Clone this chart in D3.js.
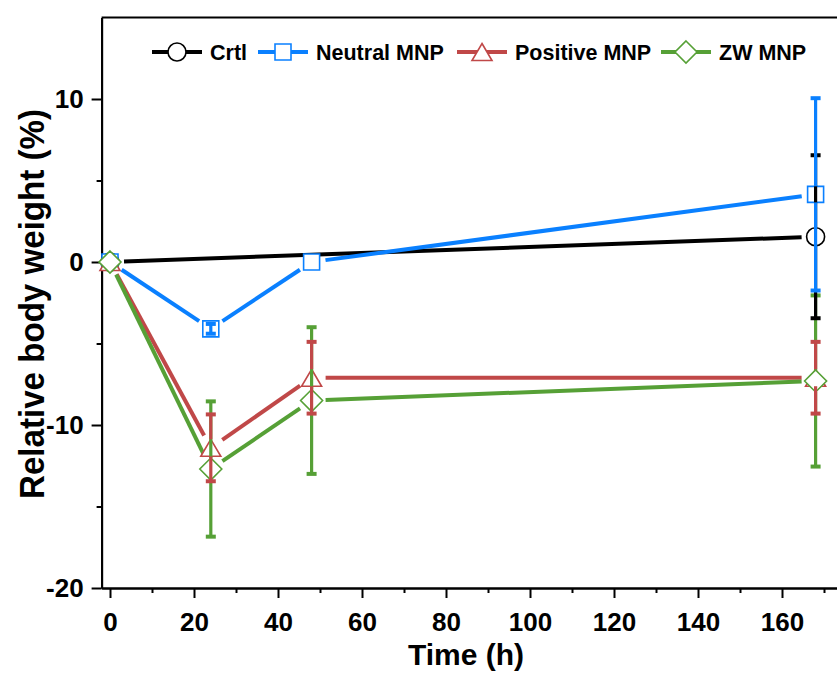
<!DOCTYPE html>
<html>
<head>
<meta charset="utf-8">
<script src="https://cdn.jsdelivr.net/npm/d3@7"></script>
<style>
  body { margin: 0; background: #fff; }
  svg { display: block; font-family: "Liberation Sans", Arial, sans-serif; }
</style>
</head>
<body>
<svg id="chart" width="837" height="674"></svg>
<script>
// ---------- data ----------
const seriesNames = ["Crtl", "Neutral MNP", "Positive MNP", "ZW MNP"];
const crtlTime = [0, 168];
const crtlMean = [0, 1.55];
const crtlErr = [0, 5.0];
const mnpTime = [0, 24, 48, 168];
const neutralMean = [0, -4.1, 0.0, 4.15];
const neutralErr = [0, 0.3, 0, 5.9];
const positiveMean = [0, -11.4, -7.1, -7.1];
const positiveErr = [0, 2.05, 2.2, 2.2];
const zwMean = [0, -12.7, -8.5, -7.3];
const zwErr = [0, 4.15, 4.5, 5.25];
const xTicks = [0, 20, 40, 60, 80, 100, 120, 140, 160];
const xMinorTicks = [10, 30, 50, 70, 90, 110, 130, 150, 170];
const yTicks = [-20, -10, 0, 10];
const yMinorTicks = [-15, -5, 5];
const xTitle = "Time (h)";
const yTitle = "Relative body weight (%)";

// ---------- styles ----------
const colors = ["#000000", "#0a80ff", "#c04848", "#56a036"];
const shapes = ["circle", "square", "triangle", "diamond"];

const series = seriesNames.map((name, i) => {
  const t = i === 0 ? crtlTime : mnpTime;
  const m = [crtlMean, neutralMean, positiveMean, zwMean][i];
  const e = [crtlErr, neutralErr, positiveErr, zwErr][i];
  return { name, color: colors[i], shape: shapes[i],
    points: t.map((tt, k) => ({ t: tt, v: m[k], e: e[k] })) };
});

const svg = d3.select("#chart");
const x = d3.scaleLinear().domain([-2, 176]).range([101.6, 101.6 + 178 * 4.2]);
const y = d3.scaleLinear().domain([-20, 15]).range([588, 17.5]);

function markerPath(shape) {
  if (shape === "circle") return d3.symbol().type(d3.symbolCircle).size(Math.PI * 9 * 9)();
  if (shape === "square") return "M-8,-8H8V8H-8Z";
  if (shape === "triangle") return "M0,-8.5L10,8.5H-10Z";
  if (shape === "diamond") return "M0,-11L11,0L0,11L-11,0Z";
}
const halfH = { circle: 9, square: 8, triangle: 8.5, diamond: 11 };

// ---------- axes ----------
const fontTick = "bold 26px 'Liberation Sans', Arial, sans-serif";

svg.append("g").attr("transform", "translate(0,588)")
  .call(d3.axisBottom(x).tickValues(xTicks).tickFormat(d3.format("d"))
    .tickSize(10).tickSizeOuter(0).tickPadding(15));
svg.append("g").attr("transform", "translate(0,588)")
  .call(d3.axisBottom(x).tickValues(xMinorTicks).tickFormat("")
    .tickSize(5).tickSizeOuter(0));
const gy = svg.append("g").attr("transform", "translate(101.6,0)")
  .call(d3.axisLeft(y).tickValues(yTicks).tickFormat(d3.format("d"))
    .tickSize(10).tickSizeOuter(0).tickPadding(8));
svg.append("g").attr("transform", "translate(101.6,0)")
  .call(d3.axisLeft(y).tickValues(yMinorTicks).tickFormat("")
    .tickSize(5).tickSizeOuter(0));
svg.append("line").attr("x1", x(-2)).attr("x2", x(176)).attr("y1", y(15)).attr("y2", y(15))
  .attr("stroke", "#000").attr("stroke-width", 2);

svg.selectAll(".domain, .tick line").attr("stroke", "#000").attr("stroke-width", 2);
svg.selectAll(".tick text").style("font", fontTick).attr("fill", "#000");
gy.selectAll(".tick text").text(d => d3.format("d")(d).replace("−", "-"));

svg.append("text").attr("x", 466).attr("y", 665).attr("text-anchor", "middle")
  .style("font", "bold 30px 'Liberation Sans', Arial, sans-serif").text(xTitle);
svg.append("text").attr("transform", "translate(44,304) rotate(-90)").attr("text-anchor", "middle")
  .attr("textLength", 390).attr("lengthAdjust", "spacingAndGlyphs")
  .style("font", "bold 35px 'Liberation Sans', Arial, sans-serif").text(yTitle);

// ---------- lines with gaps ----------
const gap = 14;
const gLines = svg.append("g");
series.forEach(s => {
  const pts = s.points.map(p => [x(p.t), y(p.v)]);
  for (let k = 0; k < pts.length - 1; k++) {
    const [x1, y1] = pts[k], [x2, y2] = pts[k + 1];
    const L = Math.hypot(x2 - x1, y2 - y1);
    if (L <= 2 * gap) continue;
    const ux = (x2 - x1) / L, uy = (y2 - y1) / L;
    gLines.append("line")
      .attr("x1", x1 + ux * gap).attr("y1", y1 + uy * gap)
      .attr("x2", x2 - ux * gap).attr("y2", y2 - uy * gap)
      .attr("stroke", s.color).attr("stroke-width", 4);
  }
});

// ---------- markers ----------
const gMarks = svg.append("g");
series.forEach(s => {
  gMarks.selectAll(null).data(s.points).enter().append("path")
    .attr("d", markerPath(s.shape))
    .attr("transform", d => `translate(${x(d.t)},${y(d.v)})`)
    .attr("fill", "#fff").attr("stroke", s.color).attr("stroke-width", 1.6);
});

// ---------- error bars ----------
const gErr = svg.append("g");
const errOrder = [3, 0, 1, 2];
errOrder.forEach(i => {
  const s = series[i];
  const hh = halfH[s.shape];
  s.points.forEach(p => {
    if (!(p.e > 0)) return;
    const cx = x(p.t), cy = y(p.v);
    const top = y(p.v + p.e), bot = y(p.v - p.e);
    const segs = (cy - top > hh) ? [[top, cy - hh], [cy + hh, bot]] : [[top, bot]];
    segs.forEach(([a, b]) => gErr.append("line")
      .attr("x1", cx).attr("x2", cx).attr("y1", a).attr("y2", b)
      .attr("stroke", s.color).attr("stroke-width", 3.2));
    [top, bot].forEach(yy => gErr.append("line")
      .attr("x1", cx - 5).attr("x2", cx + 5).attr("y1", yy).attr("y2", yy)
      .attr("stroke", s.color).attr("stroke-width", 4));
  });
});

// ---------- legend ----------
const legendX = [152, 258, 457, 661];
const legendY = 52;
const gLeg = svg.append("g");
series.forEach((s, i) => {
  const L = legendX[i];
  gLeg.append("line").attr("x1", L).attr("x2", L + 50).attr("y1", legendY).attr("y2", legendY)
    .attr("stroke", s.color).attr("stroke-width", 4);
  gLeg.append("path").attr("d", markerPath(s.shape))
    .attr("transform", `translate(${L + 25},${legendY})`)
    .attr("fill", "#fff").attr("stroke", s.color).attr("stroke-width", 1.6);
  gLeg.append("text").attr("x", L + 58).attr("y", legendY + 7.5)
    .style("font", "bold 21.5px 'Liberation Sans', Arial, sans-serif").text(s.name);
});
</script>
</body>
</html>
